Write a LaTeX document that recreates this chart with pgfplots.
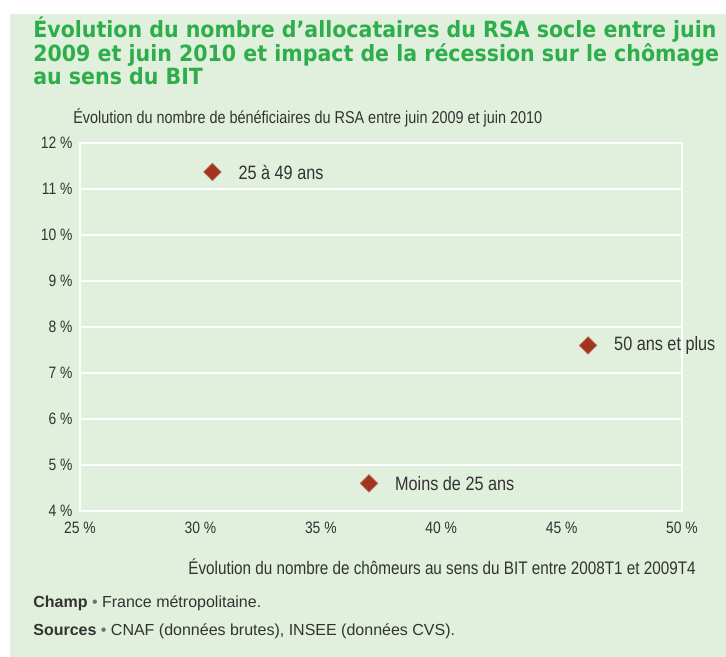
\documentclass[border=0pt]{standalone}
\usepackage{pgfplots}
\pgfplotsset{compat=1.18}
\usepackage{fontspec}
\setmainfont{Liberation Sans}[FakeStretch=0.84]
\newfontfamily\footfont{Liberation Sans}
\newfontfamily\titlefont{DejaVu Sans}[FakeStretch=0.92]
\definecolor{bg}{HTML}{E1EFDD}
\definecolor{titlegreen}{HTML}{2EAE4A}
\definecolor{txt}{HTML}{333333}
\definecolor{mk}{HTML}{A2351F}
\begin{document}
\begin{tikzpicture}[x=0.6pt,y=0.6pt]
\path (0,0) rectangle (726,657);
\fill[bg] (10,0) rectangle (726,643);
\node[anchor=north west, align=left, inner sep=0, text=titlegreen,
  font=\titlefont\bfseries\fontsize{13.4}{12.6}\selectfont] at (33,641)
  {Évolution du nombre d’allocataires du RSA socle entre juin\\
   2009 et juin 2010 et impact de la récession sur le chômage\\
   au sens du BIT};
\node[anchor=west, inner sep=0, text=txt, font=\fontsize{10.3}{12}\selectfont] at (73,539)
  {Évolution du nombre de bénéficiaires du RSA entre juin 2009 et juin 2010};
\begin{axis}[
  at={(48pt,87.6pt)}, anchor=south west,
  scale only axis, width=361.2pt, height=220.8pt,
  xmin=25, xmax=50, ymin=4, ymax=12,
  xtick={25,30,...,50}, ytick={4,5,...,12},
  xticklabels={25 \%,30 \%,35 \%,40 \%,45 \%,50 \%},
  yticklabels={4 \%,5 \%,6 \%,7 \%,8 \%,9 \%,10 \%,11 \%,12 \%},
  major tick length=0pt,
  axis line style={white, line width=0.8pt},
  ymajorgrids, grid style={white, line width=0.9pt},
  tick label style={text=txt, font=\fontsize{9.9}{11}\selectfont},
  xticklabel style={yshift=-3pt},
  yticklabel style={xshift=-1pt},
  axis background/.style={fill=bg},
  clip=false,
]
\addplot[only marks, mark=square*, mark size=3.7pt,
  mark options={rotate=45, fill=mk, draw=mk!75!white, line width=0.4pt},
  nodes near coords, point meta=explicit symbolic,
  nodes near coords style={anchor=west, inner sep=0pt, xshift=15.5pt, text=txt, font=\fontsize{11.6}{13}\selectfont}]
  table[meta=label] {
  x y label
  30.5 11.37 {25 à 49 ans}
  46.1 7.6 {50 ans et plus}
  37.0 4.6 {Moins de 25 ans}
};
\end{axis}
\node[anchor=east, inner sep=0, text=txt, font=\fontsize{10.9}{12}\selectfont] at (696,90)
  {Évolution du nombre de chômeurs au sens du BIT entre 2008T1 et 2009T4};
\node[anchor=west, inner sep=0, text=txt, font=\footfont\fontsize{9.6}{11}\selectfont] at (33,54)
  {\textbf{Champ} {\color{txt!70}•} France métropolitaine.};
\node[anchor=west, inner sep=0, text=txt, font=\footfont\fontsize{9.6}{11}\selectfont] at (33,26)
  {\textbf{Sources} {\color{txt!70}•} CNAF (données brutes), INSEE (données CVS).};
\end{tikzpicture}
\end{document}
